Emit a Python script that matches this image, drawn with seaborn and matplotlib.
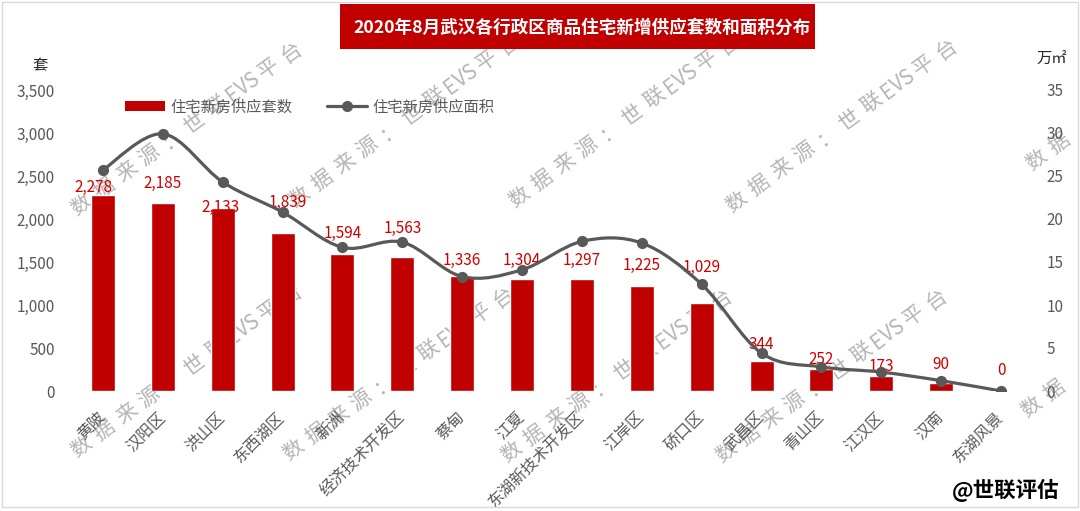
import numpy as np
import pandas as pd
import seaborn as sns
import matplotlib.pyplot as plt
from matplotlib.patches import Rectangle, Patch, PathPatch
from matplotlib.lines import Line2D
from matplotlib.path import Path
from matplotlib.ticker import FuncFormatter

# ---- data ----
districts = ["黄陂", "汉阳区", "洪山区", "东西湖区", "新洲", "经济技术开发区", "蔡甸", "江夏",
             "东湖新技术开发区", "江岸区", "硚口区", "武昌区", "青山区", "江汉区", "汉南", "东湖风景"]
units = [2278, 2185, 2133, 1839, 1594, 1563, 1336, 1304, 1297, 1225, 1029, 344, 252, 173, 90, 0]
area = [25.7, 29.9, 24.3, 20.8, 16.7, 17.3, 13.3, 14.1, 17.4, 17.2, 12.4, 4.4, 2.8, 2.2, 1.2, 0.0]

title = "2020年8月武汉各行政区商品住宅新增供应套数和面积分布"
bar_name = "住宅新房供应套数"
line_name = "住宅新房供应面积"

# label nudges (pixels) - the labels were hand placed in the original
label_dx = [-9, 0, -2, 5, 0, 0, 0, 0, 0, 0, 0, 0, 0, 0, 0, 0]
label_dy = [8, 20, 0, 30, 20, 28, 16, 18, 19, 20, 35, 17, 10, 10, 19, 21]

RED = "#C00000"
GREY = "#595959"
W, H = 1080, 511

sns.set_style("white")
plt.rcParams["font.family"] = ["Noto Sans CJK SC", "DejaVu Sans"]

df = pd.DataFrame({"pos": np.arange(len(districts)), "district": districts,
                   "units": units, "area": area})

fig = plt.figure(figsize=(W / 100, H / 100), dpi=100)
ax = fig.add_axes([73 / W, 120 / H, 958 / W, 301 / H])
ax.patch.set_visible(False)

sns.barplot(data=df, x="pos", y="units", native_scale=True, color=RED,
            width=0.4, saturation=1, ax=ax, zorder=2)
ax.set_xlim(-0.5, len(districts) - 0.5)
ax.set_ylim(0, 3500)
ax.set_yticks(range(0, 3501, 500))
ax.yaxis.set_major_formatter(FuncFormatter(lambda v, p: f"{int(v):,}"))
ax.set_xticks(df["pos"])
ax.set_xticklabels(districts, rotation=45, ha="right", va="center",
                   rotation_mode="anchor", fontsize=11.5, color=GREY)
ax.tick_params(axis="x", length=0, pad=17)
ax.tick_params(axis="y", length=0, pad=13, labelsize=11, labelcolor=GREY)
ax.set_xlabel("")
ax.set_ylabel("")
for s in ax.spines.values():
    s.set_visible(False)

# data labels
for i, v in enumerate(units):
    ax.annotate(f"{v:,}", (i, v), xytext=(label_dx[i] * 0.72, label_dy[i] * 0.72),
                textcoords="offset points", ha="center", va="center",
                fontsize=11, color="#D00000", zorder=5)

# secondary axis: smoothed line
ax2 = ax.twinx()
ax2.set_ylim(0, 35)
ax2.set_yticks(range(0, 36, 5))
ax2.tick_params(axis="y", length=0, pad=11, labelsize=11, labelcolor=GREY)
for s in ax2.spines.values():
    s.set_visible(False)

pts = np.column_stack([df["pos"], df["area"]]).astype(float)
n = len(pts)
verts = [pts[0]]
codes = [Path.MOVETO]
for i in range(n - 1):
    p0 = pts[i - 1] if i > 0 else pts[i]
    p1, p2 = pts[i], pts[i + 1]
    p3 = pts[i + 2] if i + 2 < n else pts[i + 1]
    verts += [p1 + (p2 - p0) / 6, p2 - (p3 - p1) / 6, p2]
    codes += [Path.CURVE4] * 3
ax2.add_patch(PathPatch(Path(verts, codes), facecolor="none", edgecolor=GREY,
                        lw=2.3, zorder=3))
sns.scatterplot(data=df, x="pos", y="area", color=GREY, s=65, edgecolor=GREY,
                linewidth=0, ax=ax2, zorder=4, legend=False)
ax2.set_xlabel("")
ax2.set_ylabel("")

# axis unit labels
fig.text(40 / W, 1 - 66 / H, "套", ha="center", va="center", fontsize=11, color="#262626")
fig.text(1052 / W, 1 - 58 / H, "万㎡", ha="center", va="center", fontsize=11, color="#262626")

# legend
handles = [Patch(facecolor=RED, edgecolor="none"),
           Line2D([], [], color=GREY, lw=2.3, marker="o", markersize=7)]
fig.legend(handles, [bar_name, line_name], loc="center left",
           bbox_to_anchor=(125 / W, 1 - 107 / H), ncol=2, frameon=False,
           fontsize=11, labelcolor=GREY, handlelength=2.6, handleheight=0.6,
           handletextpad=0.35, columnspacing=2.3, borderpad=0, borderaxespad=0)

# title box
fig.patches.append(Rectangle((340 / W, 1 - 49 / H), 475 / W, 45 / H,
                             transform=fig.transFigure, facecolor=RED,
                             edgecolor="none", zorder=1))
fig.text(582 / W, 1 - 28 / H, title, ha="center", va="center", fontsize=12.7,
         fontweight="bold", color="white", zorder=2)

# outer frame
fig.patches.append(Rectangle((2 / W, 4 / H), 1076 / W, 505 / H, transform=fig.transFigure,
                             facecolor="none", edgecolor="#D9D9D9", lw=1, zorder=1))

# watermark, letter-spaced along a slanted line
def watermark(x0, y0, text="数据来源：世联EVS平台", ang=36):
    c, s = np.cos(np.radians(ang)), np.sin(np.radians(ang))
    d = 0
    for ch in text:
        adv = 12 if ch.isascii() else 28
        cx = x0 + (d + adv / 2) * c
        cy = y0 - (d + adv / 2) * s
        d += adv
        if cx > W - 12 or cy < 12:
            continue
        fig.text(cx / W, 1 - cy / H, ch, rotation=ang, ha="center", va="center",
                 fontsize=15, color="#b5b5b5", zorder=-1)

for x0, y0 in [(70, 213), (288, 205), (508, 205), (725, 210), (1025, 168),
               (70, 455), (282, 458), (500, 460), (715, 460), (1020, 415)]:
    watermark(x0, y0)

fig.text(1006 / W, 1 - 490 / H, "@世联评估", ha="center", va="center",
         fontsize=15.5, fontweight="bold", color="black")

fig.savefig("out.png", dpi=100)
